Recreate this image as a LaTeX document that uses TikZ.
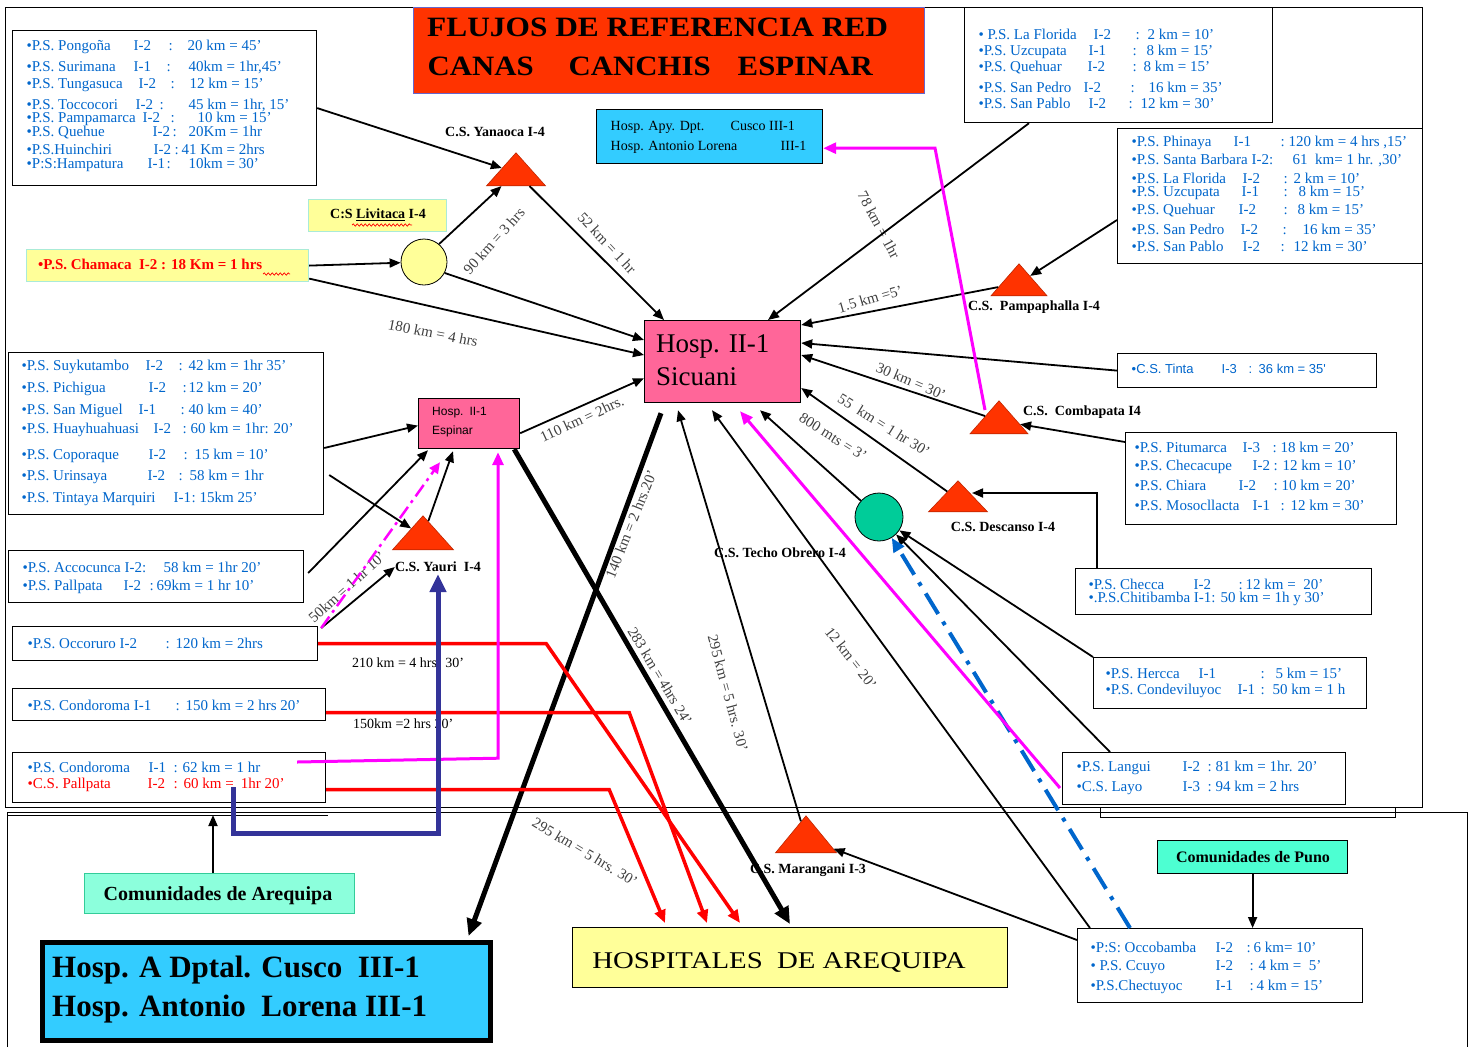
\documentclass[tikz,border=0pt]{standalone}
\usepackage{fontspec}
\usepackage{graphicx}
\setmainfont{Liberation Serif}
\newfontfamily\sansf{Liberation Sans}
\usetikzlibrary{arrows.meta,shapes.geometric,calc,decorations.pathmorphing}

\definecolor{tred}{RGB}{255,51,0}
\definecolor{pblue}{RGB}{0,102,204}
\definecolor{hpink}{RGB}{255,102,153}
\definecolor{lyel}{RGB}{255,255,153}
\definecolor{cyanb}{RGB}{51,204,255}
\definecolor{aquap}{RGB}{77,255,210}
\definecolor{aquaa}{RGB}{140,255,220}
\definecolor{aquab}{RGB}{51,204,153}
\definecolor{navyb}{RGB}{51,51,153}
\definecolor{magc}{RGB}{255,0,255}
\definecolor{tgreen}{RGB}{0,204,153}
\definecolor{lbord}{RGB}{170,235,215}
\definecolor{ttlb}{RGB}{102,102,204}
\definecolor{labg}{RGB}{64,64,64}

\newcommand{\ppos}[3]{\rlap{\hspace*{\dimexpr #1pt - #2pt\relax}#3}}
% y, x0, name, xg, grade, xc, colon, xv, value
\newcommand{\brow}[9]{\node[ltxt] (r#1x#2) at (#2,#1) {\ppos{#2}{#2}{#3}\ppos{#4}{#2}{#5}\ppos{#6}{#2}{#7}\ppos{#8}{#2}{#9}};}

\begin{document}
\begin{tikzpicture}[x=1pt,y=-1pt,
 box/.style={draw=black, line width=1.2pt, fill=white, inner sep=0, anchor=north west},
 ltxt/.style={anchor=west, inner sep=0, text=pblue, font=\fontsize{15}{17}\selectfont},
 tri/.style={isosceles triangle, isosceles triangle stretches, shape border rotate=90, minimum width=59, minimum height=33, fill=tred, draw=tred!75!black, line width=0.6pt, inner sep=0, anchor=apex},
 cs/.style={inner sep=0, font=\fontsize{14}{16}\selectfont\bfseries},
 lab/.style={inner sep=0, text=labg, font=\fontsize{15}{17}\selectfont},
 arr/.style={draw=black, line width=1.8pt, -{Triangle[length=11pt,width=9pt]}},
 tarr/.style={draw=black, line width=5pt, -{Triangle[length=17pt,width=15pt]}},
 rarr/.style={draw=red, line width=3.5pt, -{Triangle[length=13pt,width=11pt]}},
 marr/.style={draw=magc, line width=3pt, -{Triangle[length=13pt,width=11pt]}},
 narr/.style={draw=navyb, line width=5pt, -{Triangle[length=18pt,width=16pt]}},
 bdd/.style={draw=pblue, line width=4pt, dash pattern=on 24pt off 9pt on 4pt off 9pt, -{Triangle[length=14pt,width=12pt]}},
 mdd/.style={draw=magc, line width=2.5pt, dash pattern=on 14pt off 5pt on 3pt off 5pt, -{Triangle[length=11pt,width=10pt]}},
 wavy/.style={draw=red, line width=0.7pt, decorate, decoration={snake, amplitude=1.2pt, segment length=4pt}}
]
\useasboundingbox (0,0) rectangle (1471,1047);
\fill[white] (0,0) rectangle (1471,1047);

% frames
\draw[line width=0.9pt] (5,7) rectangle (1422,807);
\draw[line width=0.9pt] (7,1047) -- (7,812) -- (1467,812) -- (1467,1047);
\draw[line width=0.6pt] (1100,807) -- (1100,817) -- (1395,817) -- (1395,807);
\draw[line width=0.6pt] (7,815) -- (328,815);

% title
\node[draw=ttlb, line width=1pt, fill=tred, minimum width=511, minimum height=86, anchor=north west, inner sep=0] (title) at (413,7) {};
\node[anchor=base west, inner sep=0, font=\fontsize{28}{30}\selectfont\bfseries] (t1) at (427,36) {\scalebox{1.12}[1]{FLUJOS DE REFERENCIA RED}};
\node[anchor=base west, inner sep=0, font=\fontsize{28}{30}\selectfont\bfseries] (t2) at (427,75) {\ppos{427}{427}{\scalebox{1.1}[1]{CANAS}}\ppos{568}{427}{\scalebox{1.1}[1]{CANCHIS}}\ppos{737}{427}{\scalebox{1.1}[1]{ESPINAR}}};

% boxes
\node[box, minimum width=304, minimum height=155] (tl) at (12,30) {};
\node[box, minimum width=308, minimum height=115] (tr1) at (964,7) {};
\node[box, minimum width=305, minimum height=135] (tr2) at (1117,128) {};
\node[box, minimum width=315, minimum height=162] (lm) at (8,352) {};
\node[box, minimum width=271, minimum height=92] (pit) at (1125,432) {};
\node[box, minimum width=259, minimum height=34] (tinta) at (1117,353) {};
\node[box, minimum width=296, minimum height=46] (checca) at (1075,568) {};
\node[box, minimum width=273, minimum height=51] (hercca) at (1093,657) {};
\node[box, minimum width=283, minimum height=52] (langui) at (1062,752) {};
\node[box, minimum width=285, minimum height=74] (occob) at (1077,928) {};
\node[box, minimum width=295, minimum height=52] (acc) at (8,550) {};
\node[box, minimum width=305, minimum height=34] (occ) at (12,626) {};
\node[box, minimum width=313, minimum height=32] (cond) at (12,688) {};
\node[box, minimum width=313, minimum height=50] (condpal) at (12,752) {};

\node[box, fill=cyanb, minimum width=226, minimum height=54] (apy) at (596,109) {};
\node[box, fill=lyel, draw=lbord, minimum width=282, minimum height=32] (cham) at (26,249) {};
\node[box, fill=lyel, draw=lbord, minimum width=138, minimum height=32] (livb) at (308,199) {};
\node[box, fill=hpink, minimum width=156, minimum height=82] (sic) at (644,320) {};
\node[box, fill=hpink, minimum width=101, minimum height=50] (esp) at (418,398) {};
\node[box, fill=cyanb, line width=4.5pt, minimum width=448, minimum height=98] (cusco) at (40,940) {};
\node[box, fill=lyel, minimum width=435, minimum height=60] (harq) at (572,927) {};
\node[box, fill=aquaa, draw=aquab, minimum width=270, minimum height=40] (coma) at (84,873) {};
\node[box, fill=aquap, minimum width=190, minimum height=33] (puno) at (1157,840) {};

% circles and triangles
\node[circle, draw, fill=lyel, minimum size=46, inner sep=0, line width=0.8pt] (liv) at (424,262) {};
\node[circle, draw, fill=tgreen, minimum size=48, inner sep=0, line width=0.8pt] (tech) at (879,517) {};
\node[tri] (yan) at (516,152) {};
\node[tri, minimum width=56, minimum height=32] (pam) at (1019,263) {};
\node[tri, minimum width=58] (comb) at (999,400) {};
\node[tri, minimum height=31] (desc) at (958,480) {};
\node[tri, minimum width=61, minimum height=34] (yau) at (423,515) {};
\node[tri, minimum width=61, minimum height=37] (marang) at (806,815) {};

% texts in boxes
\brow{47}{26}{•P.S. Pongoña}{133}{I-2}{168}{:}{187}{20 km = 45’}
\brow{67}{26}{•P.S. Surimana}{133}{I-1}{166}{:}{188}{40km = 1hr,45’}
\brow{85}{26}{•P.S. Tungasuca}{138}{I-2}{170}{:}{189}{12 km = 15’}
\brow{105}{26}{•P.S. Toccocori}{135}{I-2}{159}{:}{188}{45 km = 1hr, 15’}
\brow{119}{26}{•P.S. Pampamarca}{142}{I-2}{170}{:}{197}{10 km = 15’}
\brow{133}{26}{•P.S. Quehue}{152}{I-2}{172}{:}{188}{20Km = 1hr}
\brow{149}{26}{•P.S.Huinchiri}{153}{I-2}{174}{:}{181}{41 Km = 2hrs}
\brow{165}{26}{•P:S:Hampatura}{147}{I-1}{166}{:}{188}{10km = 30’}

\brow{34}{978}{• P.S. La Florida}{1093}{I-2}{1135}{:}{1147}{2 km = 10’}
\brow{52}{978}{•P.S. Uzcupata}{1088}{I-1}{1132}{:}{1146}{8 km = 15’}
\brow{68}{978}{•P.S. Quehuar}{1087}{I-2}{1132}{:}{1143}{8 km = 15’}
\brow{87}{978}{•P.S. San Pedro}{1083}{I-2}{1130}{:}{1148}{16 km = 35’}
\brow{103}{978}{•P.S. San Pablo}{1088}{I-2}{1128}{:}{1140}{12 km = 30’}

\brow{143}{1131}{•P.S. Phinaya}{1233}{I-1}{1280}{:}{1288}{120 km = 4 hrs ,15’}
\brow{160}{1131}{•P.S. Santa Barbara I-2:}{1131}{}{1131}{}{1292}{61\enspace km= 1 hr. ,30’}
\brow{178}{1131}{•P.S. La Florida}{1242}{I-2}{1283}{:}{1293}{2 km = 10’}
\brow{193}{1131}{•P.S. Uzcupata}{1241}{I-1}{1283}{:}{1298}{8 km = 15’}
\brow{211}{1131}{•P.S. Quehuar}{1238}{I-2}{1283}{:}{1297}{8 km = 15’}
\brow{229}{1131}{•P.S. San Pedro}{1240}{I-2}{1282}{:}{1302}{16 km = 35’}
\brow{246}{1131}{•P.S. San Pablo}{1242}{I-2}{1280}{:}{1293}{12 km = 30’}

\brow{367}{21}{•P.S. Suykutambo}{145}{I-2}{178}{:}{188}{42 km = 1hr 35’}
\brow{389}{21}{•P.S. Pichigua}{148}{I-2}{182}{:}{188}{12 km = 20’}
\brow{411}{21}{•P.S. San Miguel}{138}{I-1}{180}{:}{188}{40 km = 40’}
\brow{430}{21}{•P.S. Huayhuahuasi}{153}{I-2}{182}{:}{190}{60 km = 1hr: 20’}
\brow{456}{21}{•P.S. Coporaque}{148}{I-2}{183}{:}{194}{15 km = 10’}
\brow{477}{21}{•P.S. Urinsaya}{147}{I-2}{178}{:}{189}{58 km = 1hr}
\brow{499}{21}{•P.S. Tintaya Marquiri}{173}{I-1}{191}{:}{199}{15km 25’}

\brow{447}{1134}{•P.S. Pitumarca}{1242}{I-3}{1272}{:}{1280}{18 km = 20’}
\brow{467}{1134}{•P.S. Checacupe}{1252}{I-2}{1273}{:}{1282}{12 km = 10’}
\brow{485}{1134}{•P.S. Chiara}{1238}{I-2}{1273}{:}{1281}{10 km = 20’}
\brow{505}{1134}{•P.S. Mosocllacta}{1252}{I-1}{1280}{:}{1290}{12 km = 30’}

\node[ltxt, font=\sansf\fontsize{13}{15}\selectfont] (tintat) at (1131,369) {\ppos{1131}{1131}{•C.S. Tinta}\ppos{1221}{1131}{I-3}\ppos{1248}{1131}{:}\ppos{1258}{1131}{36 km = 35'}};

\brow{584}{1088}{•P.S. Checca}{1193}{I-2}{1238}{:}{1245}{12 km =\enspace 20’}
\brow{599}{1088}{•.P.S.Chitibamba I-1: 50 km = 1h y 30’}{1088}{}{1088}{}{1088}{}

\brow{673}{1105}{•P.S. Hercca}{1198}{I-1}{1260}{:}{1275}{5 km = 15’}
\brow{691}{1105}{•P.S. Condeviluyoc}{1237}{I-1}{1260}{:}{1272}{50 km = 1 h}

\brow{768}{1076}{•P.S. Langui}{1182}{I-2}{1207}{:}{1215}{81 km = 1hr. 20’}
\brow{788}{1076}{•C.S. Layo}{1182}{I-3}{1207}{:}{1215}{94 km = 2 hrs}

\brow{947}{1090}{•P:S: Occobamba}{1215}{I-2}{1246}{:}{1253}{6 km= 10’}
\brow{967}{1090}{• P.S. Ccuyo}{1215}{I-2}{1249}{:}{1258}{4 km =\enspace 5’}
\brow{987}{1090}{•P.S.Chectuyoc}{1215}{I-1}{1249}{:}{1256}{4 km = 15’}

\brow{567}{22}{•P.S. Accocunca}{124}{I-2:}{163}{}{163}{58 km = 1hr 20’}
\brow{587}{22}{•P.S. Pallpata}{123}{I-2}{149}{:}{156}{69km = 1 hr 10’}
\brow{643}{27}{•P.S. Occoruro I-2}{27}{}{165}{:}{175}{120 km = 2hrs}
\brow{705}{27}{•P.S. Condoroma I-1}{27}{}{175}{:}{185}{150 km = 2 hrs 20’}
\brow{767}{27}{•P.S. Condoroma}{148}{I-1}{173}{:}{182}{62 km = 1 hr}
\node[ltxt, text=red] (r785x27) at (27,785) {\ppos{27}{27}{•C.S. Pallpata}\ppos{147}{27}{I-2}\ppos{173}{27}{:}\ppos{183}{27}{60 km =\hspace{7pt}1hr 20’}};

% other texts
\node[ltxt, text=black, font=\fontsize{14}{16}\selectfont] (apy1) at (610,127) {\ppos{610}{610}{Hosp. Apy. Dpt.}\ppos{730}{610}{Cusco III-1}};
\node[ltxt, text=black, font=\fontsize{14}{16}\selectfont] (apy2) at (610,147) {\ppos{610}{610}{Hosp. Antonio Lorena}\ppos{780}{610}{III-1}};
\node[anchor=west, inner sep=0, text=red, font=\fontsize{15}{17}\selectfont\bfseries] (chamt) at (38,264) {•P.S. Chamaca\enspace I-2 : 18 Km = 1 hrs};
\node[inner sep=0, font=\fontsize{14}{16}\selectfont\bfseries] (livt) at (378,215) {C:S \underline{Livitaca} I-4};
\draw[wavy] (352,225) -- (412,225);
\draw[wavy] (263,274) -- (290,274);
\node[anchor=base west, inner sep=0, font=\fontsize{27}{30}\selectfont] (sic1) at (656,352) {Hosp. II-1};
\node[anchor=base west, inner sep=0, font=\fontsize{27}{30}\selectfont] (sic2) at (656,385) {Sicuani};
\node[anchor=west, inner sep=0, font=\sansf\fontsize{12}{14}\selectfont] (esp1) at (432,413) {Hosp.\enspace II-1};
\node[anchor=west, inner sep=0, font=\sansf\fontsize{12}{14}\selectfont] (esp2) at (432,431) {Espinar};
\node[anchor=base west, inner sep=0, font=\fontsize{31}{34}\selectfont\bfseries] (cus1) at (52,977) {Hosp. A Dptal. Cusco\enspace III-1};
\node[anchor=base west, inner sep=0, font=\fontsize{31}{34}\selectfont\bfseries] (cus2) at (52,1016) {Hosp. Antonio\enspace Lorena III-1};
\node[anchor=base, inner sep=0, font=\fontsize{24}{26}\selectfont] (harqt) at (779,968) {\scalebox{1.2}[1]{HOSPITALES\enspace DE AREQUIPA}};
\node[anchor=base, inner sep=0, font=\fontsize{20}{22}\selectfont\bfseries] (comat) at (218,900) {Comunidades de Arequipa};
\node[anchor=base, inner sep=0, font=\fontsize{16}{18}\selectfont\bfseries] (punot) at (1253,862) {Comunidades de Puno};

% bold node labels
\node[cs] (yanlab) at (495,132) {C.S. Yanaoca I-4};
\node[cs] (pamlab) at (1034,307) {C.S.\enspace Pampaphalla I-4};
\node[cs] (comblab) at (1082,412) {C.S.\enspace Combapata I4};
\node[cs] (desclab) at (1003,527) {C.S. Descanso I-4};
\node[cs] (techlab) at (780,553) {C.S. Techo Obrero I-4};
\node[cs] (yaulab) at (438,567) {C.S. Yauri\enspace I-4};
\node[cs] (maranglab) at (808,870) {C.S. Marangani I-3};

% distance labels
\node[lab, rotate=48] (l90) at (494,241) {90 km = 3 hrs};
\node[lab, rotate=-47] (l52) at (607,243) {52 km = 1 hr};
\node[lab, rotate=-11] (l180) at (433,333) {180 km = 4 hrs};
\node[lab, rotate=-62] (l78) at (879,225) {78 km = 1hr};
\node[lab, rotate=16] (l15) at (870,299) {1.5 km =5’};
\node[lab, rotate=-23] (l30) at (911,381) {30 km = 30’};
\node[lab, rotate=-32] (l55) at (884,425) {55\enspace km = 1 hr 30’};
\node[lab, rotate=-32] (l800) at (833,437) {800 mts = 3’};
\node[lab, rotate=25] (l110) at (582,419) {110 km = 2hrs.};
\node[lab, rotate=68] (l140) at (631,524) {140 km = 2 hrs.20’};
\node[lab, rotate=-59] (l283) at (660,676) {283 km = 4hrs 24’};
\node[lab, rotate=-75] (l295) at (728,693) {295 km = 5 hrs. 30’};
\node[lab, rotate=-52] (l12) at (851,658) {12 km = 20’};
\node[lab, rotate=42] (l50) at (347,587) {50km = 1 hr 10’};
\node[lab, rotate=-31] (l295b) at (585,852) {295 km = 5 hrs. 30’};
\node[anchor=west, inner sep=0, font=\fontsize{14}{16}\selectfont] (l210) at (352,663) {210 km = 4 hrs. 30’};
\node[anchor=west, inner sep=0, font=\fontsize{14}{16}\selectfont] (l150) at (353,724) {150km =2 hrs 20’};

\coordinate (arqtip) at (213,815);
\coordinate (bendA) at (935,148);

% connectors
\draw[arr] (tl.east) -- (yan);
\draw[arr] (cham.east) -- (liv);
\draw[arr] ($(cham.east)+(0,13)$) -- ($(sic.north west)+(0,35)$);
\draw[arr] (liv.-28) -- ($(sic.north west)+(0,20)$);
\draw[arr] (liv.50) -- (yan);
\draw[arr] (yan) -- ($(sic.north west)+(20,0)$);
\draw[arr] ($(tr1.south west)+(65,0)$) -- ($(sic.north west)+(124,0)$);
\draw[arr] (pam) -- ($(sic.north east)+(0,5)$);
\draw[arr] ($(tr2.north west)+(0,92)$) -- (pam);
\draw[arr] (tinta.west) -- ($(sic.north east)+(0,23)$);
\draw[arr] (comb) -- ($(sic.north east)+(0,35)$);
\draw[arr] ($(pit.north west)+(0,10)$) -- (comb);
\draw[arr] (desc) -- ($(sic.north east)+(0,68)$);
\draw[arr] ($(checca.north west)+(22,0)$) |- ($(desc.apex)+(14,13)$);
\draw[arr] (tech) -- ($(sic.south west)+(116,7)$);
\draw[arr] (hercca.north west) -- (tech);
\draw[arr] ($(langui.north west)+(48,0)$) -- (tech);
\draw[bdd] ($(occob.north west)+(53,0)$) -- (tech);
\draw[marr] ($(langui.north west)+(-2,36)$) -- ($(sic.south west)+(96,8)$);
\draw[marr] ($(comb.apex)+(-14,10)$) -- (bendA) -- ($(apy.south east)+(0,-16)$);
\draw[tarr] ($(sic.south west)+(17,10)$) -- ($(cusco.north east)+(-24,-4)$);
\draw[arr] (marang) -- ($(sic.south west)+(34,7)$);
\draw[arr] ($(occob.north west)+(13,0)$) -- ($(sic.south west)+(68,7)$);
\draw[arr] ($(occob.north west)+(0,12)$) -- (marang);
\draw[arr] (puno.south) -- (puno.south |- occob.north);
\draw[arr] ($(lm.north east)+(0,96)$) -- ($(esp.west)+(0,2)$);
\draw[arr] ($(lm.north east)+(5,123)$) -- (yau);
\draw[arr] ($(esp.south east)+(0,-16)$) -- ($(sic.south west)+(0,-25)$);
\draw[tarr] ($(esp.south east)+(-6,0)$) -- ($(harq.north west)+(218,-3)$);
\draw[arr] (yau) -- ($(esp.south west)+(35,2)$);
\draw[arr] ($(acc.north east)+(4,23)$) -- ($(esp.south west)+(10,1)$);
\draw[arr] ($(occ.north east)+(3,2)$) -- (yaulab.west);
\draw[mdd] ($(occ.north east)+(3,2)$) -- ($(esp.south west)+(22,13)$);
\draw[rarr] (occ.east) -- ++(228,0) -- ($(harq.north west)+(168,-4)$);
\draw[rarr] ($(cond.east)+(0,8)$) -- ++(303,0) -- ($(harq.north west)+(135,-4)$);
\draw[rarr] ($(condpal.east)+(0,12)$) -- ++(283,0) -- ($(harq.north west)+(93,-4)$);
\draw[marr] ($(condpal.north east)+(-29,10)$) -- ($(esp.south west)+(80,309)$) -- ($(esp.south west)+(80,3)$);
\draw[narr] ($(condpal.north west)+(221,35)$) -- ++(0,46) -- ++(205,0) -- ($(yaulab.south)+(0,2)$);
\draw[arr] ($(coma.north west)+(129,0)$) -- (arqtip);
\end{tikzpicture}
\end{document}
